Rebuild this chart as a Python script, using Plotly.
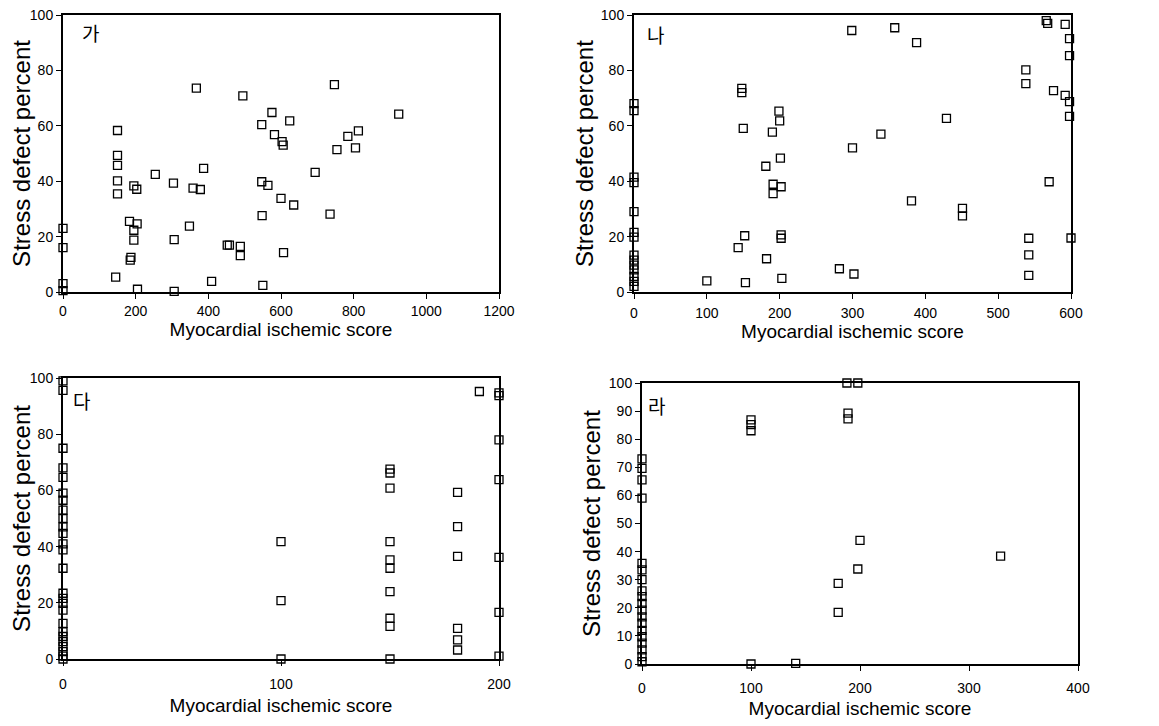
import plotly.graph_objects as go

# ---- Panel 가 ----
ga_x = [0, 0, 0, 0, 150, 150, 150, 150, 150, 145, 183, 185, 187, 195, 203, 195, 195, 204, 205,
        254, 304, 306, 306, 358, 367, 378, 387, 348, 409, 452, 458, 488, 488, 495, 547, 547, 564,
        548, 550, 575, 582, 603, 606, 600, 607, 624, 635, 694, 735, 747, 754, 784, 813, 805, 924]
ga_y = [23, 16, 3, 0.5, 58.3, 49.3, 45.7, 40.1, 35.4, 5.4, 25.5, 11.5, 12.5, 38.3, 37.1, 22.3, 18.7, 24.6, 1,
        42.5, 39.3, 18.9, 0.2, 37.5, 73.6, 37, 44.6, 23.8, 3.8, 16.9, 16.9, 16.5, 13.1, 70.8, 60.4, 39.8, 38.5,
        27.6, 2.4, 64.8, 56.8, 54.3, 53.0, 33.8, 14.2, 61.8, 31.4, 43.2, 28.1, 74.9, 51.4, 56.2, 58.2, 52, 64.2]

# ---- Panel 나 ----
na_x = [0, 0, 0, 0, 0, 0, 0, 0, 0, 0, 0, 0, 0, 0,
        100, 148, 148, 150, 152, 153, 143, 182, 181, 190, 191, 191, 199, 200, 201, 202, 202, 202, 203,
        282, 302, 299, 300, 339, 358, 388, 381, 429, 451, 451, 538, 538, 542, 542, 542, 566, 568, 570,
        576, 592, 592, 598, 598, 598, 598, 600]
na_y = [68, 65.5, 41.5, 39.5, 29, 21.5, 19.8, 13.3, 11.5, 9.7, 8, 5.6, 3.8, 2,
        4, 73.5, 72, 59.1, 20.3, 3.4, 16, 12, 45.4, 57.7, 38.9, 35.5, 65.3, 61.8, 48.3, 38, 20.6, 19.4, 4.9,
        8.4, 6.5, 94.4, 52, 57, 95.4, 90, 32.9, 62.7, 30.2, 27.5, 80.2, 75.2, 19.4, 13.4, 6, 98, 97, 39.8,
        72.7, 96.6, 71, 91.5, 85.3, 68.7, 63.4, 19.5]

# ---- Panel 다 ----
da_x = [0] * 26 + [100, 100, 100, 150, 150, 150, 150, 150, 150, 150, 150, 150, 150,
                   181, 181, 181, 181, 181, 181, 191, 200, 200, 200, 200, 200, 200, 200]
da_y = [99, 95.6, 75, 68, 64.6, 59, 56.5, 53, 50, 47, 44.7, 41, 38.8, 32.3, 23.4, 21.6, 19.8, 17.4,
        12.7, 9.7, 8, 6.2, 4.4, 2.6, 1, 0,
        41.8, 20.8, 0, 67.6, 66.2, 60.8, 41.8, 35.3, 32.3, 24, 14.5, 11.6, 0,
        59.3, 47.1, 36.5, 10.9, 6.8, 3.2, 95.2, 94.7, 93.7, 78, 63.8, 36.2, 16.6, 1]

# ---- Panel 라 ----
ra_x = [0] * 19 + [100, 100, 100, 100, 141, 149, 188, 198, 189, 189, 180, 180, 198, 200, 329]
ra_y = [73, 69.6, 65.5, 59, 35.8, 33.5, 30, 26, 24, 21.6, 19.2, 16.8, 14.5, 12, 9.7, 7.4, 5, 2.6, 0.8,
        86.9, 85.2, 83, 0, 0.2, 100.2, 100, 100, 89.3, 87.2, 28.7, 18.4, 33.8, 44, 38.4]

panel_labels = ["가", "나", "다", "라"]
x_title = "Myocardial ischemic score"
y_title = "Stress defect percent"

# page body has an 8px margin: the figure is sized to fit the window
OFF = 8
W, H = 1159 - OFF, 726 - OFF
def px_x(p):
    return (p - OFF) / W
def px_y(p):
    return 1 - (p - OFF) / H

panels = [
    dict(x=ga_x, y=ga_y, xd=(63, 499), yd=(292, 15), xr=1200, xdt=200, ydt=20, lab=(90, 32),
         xstand=0, tstand=0, ystand=15),
    dict(x=na_x, y=na_y, xd=(634, 1071), yd=(292, 15), xr=600, xdt=100, ydt=20, lab=(655, 34),
         xstand=2, tstand=0, ystand=0),
    dict(x=da_x, y=da_y, xd=(63, 499), yd=(659, 378), xr=200, xdt=100, ydt=20, lab=(81, 400),
         xstand=6, tstand=8, ystand=8),
    dict(x=ra_x, y=ra_y, xd=(642, 1078), yd=(664, 383), xr=400, xdt=100, ydt=10, lab=(656, 405),
         xstand=5, tstand=7, ystand=1),
]

font_fam = "Liberation Sans, Arial, sans-serif"
fig = go.Figure()
layout = dict(width=W, height=H, margin=dict(l=0, r=0, t=0, b=0),
              paper_bgcolor="white", plot_bgcolor="white", showlegend=False,
              font=dict(family=font_fam, color="black"))
annotations = []
for i, p in enumerate(panels):
    n = "" if i == 0 else str(i + 1)
    fig.add_trace(go.Scatter(
        x=p["x"], y=p["y"], mode="markers", xaxis="x" + n, yaxis="y" + n,
        cliponaxis=False,
        marker=dict(symbol="square-open", size=8, color="black", line=dict(width=1.3, color="black")),
    ))
    axcommon = dict(showline=True, linecolor="black", linewidth=2, mirror=True, showgrid=False,
                    zeroline=False, ticks="outside", ticklen=5, tickwidth=1, tickcolor="black",
                    ticklabeloverflow="allow",
                    tickfont=dict(size=14, family=font_fam, color="black"), automargin=False)
    xa = dict(axcommon, domain=[px_x(p["xd"][0]), px_x(p["xd"][1])],
              range=[0, p["xr"]], dtick=p["xdt"], tick0=0, anchor="y" + n,
              title=dict(text=x_title, font=dict(size=19, family=font_fam), standoff=p["tstand"]))
    if p["xstand"]:
        xa["ticklabelstandoff"] = p["xstand"]
    layout["xaxis" + n] = xa
    layout["yaxis" + n] = dict(axcommon, domain=[px_y(p["yd"][0]), px_y(p["yd"][1])],
                               range=[0, 100], dtick=p["ydt"], tick0=0, anchor="x" + n,
                               title=dict(text=y_title, font=dict(size=24, family=font_fam),
                                          standoff=p["ystand"]))
    annotations.append(dict(text=panel_labels[i], x=px_x(p["lab"][0]), y=px_y(p["lab"][1]),
                            xref="paper", yref="paper", showarrow=False,
                            xanchor="center", yanchor="middle",
                            font=dict(size=19, family="Noto Sans CJK KR", color="black")))
layout["annotations"] = annotations
fig.update_layout(**layout)
fig.write_html("out.html")
